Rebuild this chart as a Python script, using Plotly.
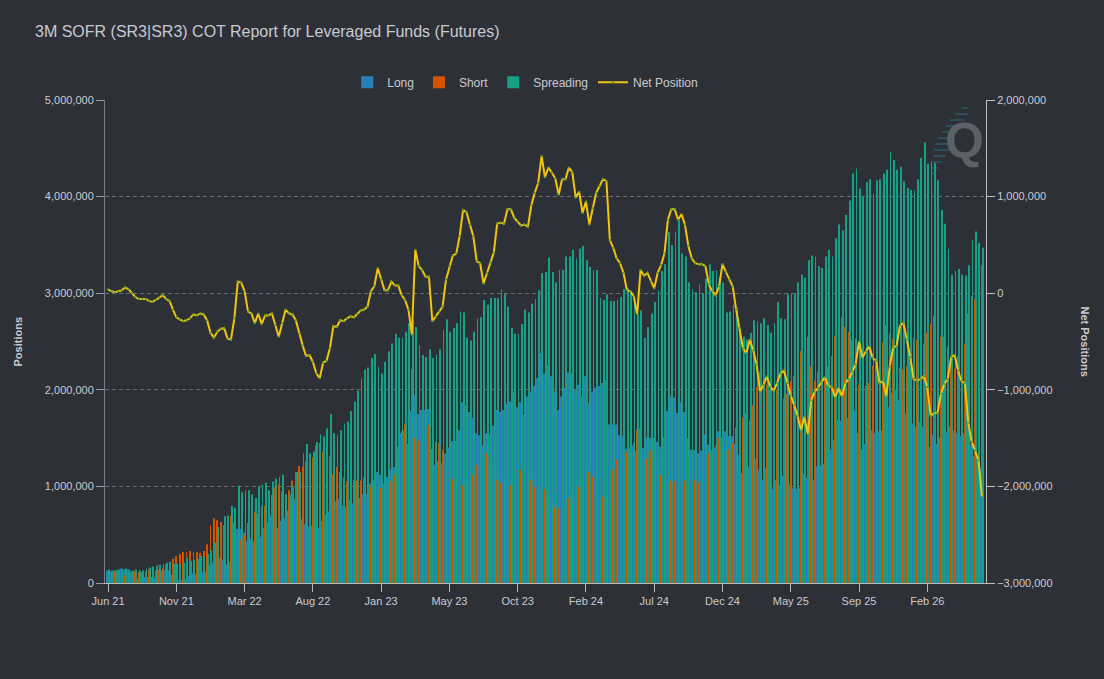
import pandas as pd
import plotly.graph_objects as go

# weekly COT data, values in thousands of contracts
long_k = [130, 120, 130, 140, 150, 140, 140, 120, 80, 50,
          50, 60, 60, 60, 60, 100, 130, 130, 130, 80,
          30, 30, 30, 40, 70, 100, 90, 100, 110, 120,
          190, 210, 250, 260, 240, 190, 220, 360, 560, 560,
          520, 430, 460, 430, 510, 480, 570, 630, 700, 650,
          570, 640, 670, 750, 840, 870, 790, 660, 610, 580,
          590, 590, 570, 640, 710, 740, 780, 850, 870, 800,
          790, 860, 820, 850, 880, 920, 920, 1030, 1070, 1150,
          1120, 1030, 1100, 1170, 1200, 1410, 1550, 1580, 1440, 1780,
          1950, 1750, 1790, 1790, 1800, 1100, 1220, 1260, 1240, 1340,
          1400, 1470, 1470, 1580, 1870, 1840, 1770, 1710, 1550, 1530,
          1420, 1550, 1540, 1630, 1790, 1770, 1790, 1850, 1880, 1980,
          1820, 1870, 1740, 1930, 1980, 2040, 2120, 2380, 2170, 2260,
          2140, 1980, 1790, 1930, 2020, 2180, 2170, 2000, 2050, 1930,
          2140, 1860, 1980, 2020, 2040, 2070, 2100, 1640, 1640, 1640,
          1530, 1520, 1390, 1400, 1420, 1370, 1600, 1400, 1500, 1500,
          1500, 1460, 1410, 1510, 1780, 1930, 1920, 1760, 1870, 1770,
          1500, 1380, 1380, 1340, 1370, 1540, 1430, 1380, 1400, 1570,
          1510, 1570, 1520, 1520, 1440, 1330, 1140, 1140, 1200, 1250,
          1290, 1170, 1070, 1190, 1030, 970, 1070, 1010, 1110, 1030,
          1030, 980, 970, 980, 1130, 1090, 1130, 1070, 1210, 1220,
          1230, 1280, 1380, 1480, 1690, 1680, 1720, 1710, 1710, 1790,
          1550, 1380, 1440, 1520, 1580, 1550, 1570, 1580, 1600, 1820,
          1970, 2000, 1900, 1900, 1760, 1640, 1650, 1620, 1670, 1620,
          1620, 1410, 1530, 1440, 1510, 1610, 1560, 1620, 1580, 1550,
          1520, 1550, 1450, 1430, 1310, 1310, 1180]

short_k = [90, 100, 120, 120, 120, 80, 100, 120, 120, 110,
           110, 120, 140, 150, 130, 140, 150, 190, 210, 250,
           280, 300, 320, 320, 330, 320, 320, 310, 330, 400,
           600, 670, 650, 630, 600, 660, 700, 620, 440, 450,
           500, 620, 670, 740, 720, 800, 800, 860, 910, 980,
           1020, 950, 840, 960, 1060, 1150, 1210, 1200, 1260, 1220,
           1300, 1420, 1450, 1360, 1410, 1310, 1120, 1200, 1150, 1090,
           1050, 1100, 1070, 1060, 1060, 1090, 1060, 1010, 1000, 890,
           980, 1000, 1070, 1050, 1120, 1330, 1570, 1650, 1610, 2210,
           1500, 1470, 1550, 1620, 1630, 1390, 1460, 1450, 1380, 1200,
           1120, 1080, 1060, 990, 1010, 1000, 1060, 1120, 1220, 1220,
           1320, 1340, 1220, 1210, 1070, 1040, 1070, 980, 1010, 1200,
           1080, 1170, 1030, 1240, 1070, 1000, 980, 960, 970, 960,
           890, 790, 770, 750, 840, 880, 920, 1010, 1000, 1100,
           1190, 1150, 1100, 980, 930, 890, 940, 1090, 1170, 1280,
           1220, 1310, 1360, 1380, 1450, 1590, 1360, 1220, 1290, 1380,
           1450, 1250, 1120, 1100, 1020, 1060, 1050, 1000, 1050, 1060,
           1010, 1020, 1070, 1040, 1070, 1260, 1340, 1360, 1420, 1500,
           1210, 1350, 1380, 1450, 1610, 1690, 1710, 1760, 1680, 1840,
           2030, 2190, 2020, 2050, 2000, 1980, 2000, 1840, 1910, 1960,
           2090, 2140, 2240, 2400, 2410, 2550, 2240, 2090, 2190, 2140,
           2100, 2240, 2350, 2560, 2670, 2750, 2650, 2600, 2520, 2530,
           2050, 2050, 2040, 2070, 2250, 2250, 2500, 2490, 2670, 2580,
           2530, 2550, 2230, 2210, 2240, 2300, 2540, 2520, 2560, 2480,
           2590, 2680, 2770, 2680, 2550, 2550, 2450, 2280, 2220, 2350,
           2430, 2480, 2790, 2970, 2940, 3040, 3290]

spread_k = [140, 130, 130, 140, 150, 150, 140, 130, 140, 130,
            130, 150, 160, 170, 180, 190, 200, 210, 220, 200,
            200, 200, 210, 260, 230, 240, 250, 280, 270, 300,
            340, 420, 580, 630, 690, 700, 800, 780, 1010, 940,
            960, 960, 920, 880, 1000, 1020, 1040, 960, 1050, 1080,
            1100, 1120, 920, 920, 1000, 1150, 1150, 1340, 1440, 1340,
            1360, 1460, 1540, 1520, 1600, 1750, 1550, 1530, 1580, 1650,
            1670, 1780, 1880, 1990, 2120, 2210, 2230, 2330, 2370, 2240,
            2170, 2290, 2400, 2480, 2580, 2540, 2540, 2600, 2690, 2720,
            2650, 2460, 2360, 2340, 2420, 2330, 2360, 2420, 2620, 2730,
            2600, 2640, 2690, 2810, 2800, 2540, 2510, 2600, 2740, 2750,
            2930, 2880, 2950, 2950, 2950, 3040, 3000, 2860, 2640, 2580,
            2580, 2680, 2830, 2800, 2890, 2940, 3030, 3210, 3220, 3370,
            3220, 3110, 3240, 3240, 3380, 3380, 3450, 3360, 3460, 3490,
            3340, 3270, 3240, 3240, 2950, 2930, 2990, 2920, 2920, 2930,
            2960, 3040, 3050, 3020, 2970, 2780, 2820, 2540, 2650, 2790,
            2910, 3030, 3230, 3300, 3630, 3500, 3640, 3760, 3410, 3380,
            3110, 3040, 3010, 3090, 3000, 3150, 3300, 3230, 3240, 3160,
            3110, 2800, 2810, 2880, 2850, 2640, 2550, 2520, 2590, 2720,
            2710, 2690, 2740, 2670, 2590, 2690, 2910, 2740, 2730, 2990,
            3000, 3000, 3110, 3190, 3160, 3340, 3390, 3380, 3280, 3260,
            3380, 3450, 3380, 3570, 3710, 3650, 3810, 3960, 4240, 4290,
            4080, 4000, 4150, 4180, 4030, 4170, 4180, 4240, 4280, 4460,
            4380, 4280, 4310, 4160, 4090, 4070, 4060, 4180, 4400, 4560,
            4340, 4360, 4350, 4170, 3860, 3720, 3460, 3190, 3230, 3250,
            3190, 3180, 3290, 3550, 3640, 3520, 3470]

net_k = [40, 20, 10, 20, 30, 60, 40, 0, -40, -60,
         -60, -60, -80, -90, -70, -40, -20, -60, -80, -170,
         -250, -270, -290, -280, -260, -220, -230, -210, -220, -280,
         -410, -460, -400, -370, -360, -470, -480, -260, 120, 110,
         20, -190, -210, -310, -210, -320, -230, -230, -210, -330,
         -450, -310, -170, -210, -220, -280, -420, -540, -650, -640,
         -710, -830, -880, -720, -700, -570, -340, -350, -280, -290,
         -260, -240, -250, -210, -180, -170, -140, 20, 70, 260,
         140, 30, 30, 120, 80, 80, -20, -70, -170, -430,
         450, 280, 240, 170, 170, -290, -240, -190, -140, 140,
         280, 390, 410, 590, 860, 840, 710, 590, 330, 310,
         100, 210, 320, 420, 720, 730, 720, 870, 870, 780,
         740, 700, 710, 690, 910, 1040, 1140, 1420, 1200, 1300,
         1250, 1190, 1020, 1180, 1180, 1300, 1250, 990, 1050, 830,
         950, 710, 880, 1040, 1110, 1180, 1160, 550, 470, 360,
         310, 210, 30, 20, -30, -220, 240, 180, 210, 120,
         50, 210, 290, 410, 760, 870, 870, 760, 820, 710,
         490, 360, 310, 300, 300, 280, 90, 20, -20, 70,
         300, 220, 140, 70, -170, -360, -570, -620, -480, -590,
         -740, -1020, -950, -860, -970, -1010, -930, -830, -800, -930,
         -1060, -1160, -1270, -1420, -1280, -1460, -1110, -1020, -980, -920,
         -870, -960, -970, -1080, -980, -1070, -930, -890, -810, -740,
         -500, -670, -600, -550, -670, -700, -930, -910, -1070, -760,
         -560, -550, -330, -310, -480, -660, -890, -900, -890, -860,
         -970, -1270, -1240, -1240, -1040, -940, -890, -660, -640, -800,
         -910, -930, -1340, -1540, -1630, -1730, -2110]

weeks = pd.date_range("2021-06-08", periods=len(net_k), freq="7D").strftime("%Y-%m-%d").tolist()

tick_labels = ["Jun 21", "Nov 21", "Mar 22", "Aug 22", "Jan 23", "May 23", "Oct 23",
               "Feb 24", "Jul 24", "Dec 24", "May 25", "Sep 25", "Feb 26"]
tick_weeks = weeks[::20][:len(tick_labels)]

bg = "#2e3038"
txt = "#c9cbd0"
font = "Liberation Sans, Arial, sans-serif"

fig = go.Figure()
fig.add_trace(go.Bar(x=weeks, y=[v * 1000 for v in long_k], name="Long",
                     marker=dict(color="#2980b9", line=dict(width=0))))
fig.add_trace(go.Bar(x=weeks, y=[v * 1000 for v in short_k], name="Short",
                     marker=dict(color="#d35400", line=dict(width=0))))
fig.add_trace(go.Bar(x=weeks, y=[v * 1000 for v in spread_k], name="Spreading",
                     marker=dict(color="#16a085", line=dict(width=0))))
fig.add_trace(go.Scatter(x=weeks, y=[v * 1000 for v in net_k], name="Net Position",
                         yaxis="y2", mode="lines+markers",
                         line=dict(color="#f1c40f", width=2),
                         marker=dict(color="#5e9a2c", size=2.2)))

# px helpers for annotations / watermark (plot area 105..986 x 100..583)
def px_x(x):
    return (x - 105) / 881.0

def px_y(y):
    return (583 - y) / 483.0

stripes = [(108, 962, 968), (114, 955, 968), (120, 950, 965), (126, 946, 962),
           (132, 942, 958), (138, 938, 955), (144, 935, 952), (150, 934, 950),
           (156, 933, 946), (162, 932, 942), (168, 932, 938), (174, 932, 936)]
shapes = []
for y, x0, x1 in stripes:
    shapes.append(dict(type="line", xref="paper", yref="paper",
                       x0=px_x(x0), x1=px_x(x1), y0=px_y(y), y1=px_y(y),
                       line=dict(color="rgba(40,105,120,0.55)", width=2), layer="below"))

fig.update_layout(
    width=1104, height=679,
    paper_bgcolor=bg, plot_bgcolor=bg,
    font=dict(family=font, color=txt, size=11),
    title=dict(text="3M SOFR (SR3|SR3) COT Report for Leveraged Funds (Futures)",
               x=35 / 1104, xanchor="left", y=1 - 31 / 679, yanchor="middle",
               font=dict(size=16, color="#c8cad0")),
    margin=dict(l=105, r=118, t=100, b=96),
    barmode="group", bargap=0.28, bargroupgap=0.0,
    showlegend=True,
    legend=dict(orientation="h", x=0.477, xanchor="center", y=1.037, yanchor="middle",
                font=dict(size=12, color=txt), bgcolor="rgba(0,0,0,0)",
                itemwidth=30, traceorder="normal"),
    xaxis=dict(type="category", range=[-0.9, len(weeks) + 0.2],
               tickmode="array", tickvals=tick_weeks, ticktext=tick_labels,
               showgrid=False, showline=True, linecolor="#b8b8b8", linewidth=1,
               ticks="outside", ticklen=8, tickcolor="#b8b8b8",
               tickfont=dict(size=11, color=txt), tickangle=0),
    yaxis=dict(range=[0, 5000000], dtick=1000000, tickformat=",d",
               showgrid=True, gridcolor="#6a6c72", griddash="4px,3px", gridwidth=1,
               zeroline=False, showline=True, linecolor="#7a7c82",
               ticks="outside", ticklen=8, tickcolor="#9a9ca2",
               tickfont=dict(size=11, color=txt)),
    yaxis2=dict(range=[-3000000, 2000000], dtick=1000000, tickformat=",d",
                overlaying="y", side="right", showgrid=False, zeroline=False,
                showline=True, linecolor="#c0c0c0", ticks="outside", ticklen=8,
                tickcolor="#c0c0c0", tickfont=dict(size=11, color=txt)),
    shapes=shapes,
    annotations=[
        dict(text="<b>Positions</b>", xref="paper", yref="paper", x=px_x(17), y=0.5,
             xanchor="center", yanchor="middle",
             textangle=-90, showarrow=False, font=dict(size=11, color=txt)),
        dict(text="<b>Net Positions</b>", xref="paper", yref="paper", x=px_x(1085), y=0.5,
             xanchor="center", yanchor="middle",
             textangle=90, showarrow=False, font=dict(size=11, color=txt)),
        dict(text="<b>Q</b>", xref="paper", yref="paper", x=px_x(964), y=px_y(141),
             xanchor="center", yanchor="middle",
             showarrow=False, font=dict(size=50, color="#5d6066", family=font)),
    ],
)

fig.write_html("out.html", config={"displayModeBar": False},
               post_script="document.body.style.margin='0';"
                           "document.body.style.background='#2e3038';")
